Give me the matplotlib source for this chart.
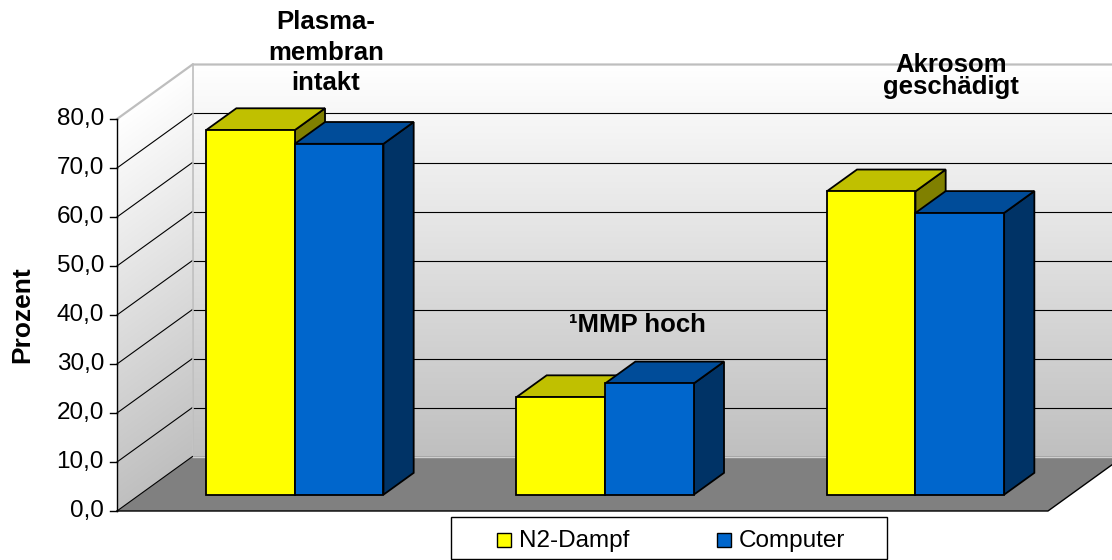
import numpy as np
import matplotlib
matplotlib.use("Agg")
import matplotlib.pyplot as plt
from matplotlib.patches import Polygon, Rectangle

# ---------------- data ----------------
categories = ["Plasma-\nmembran\nintakt", "\u00b9MMP hoch", "Akrosom\ngesch\u00e4digt"]
series_names = ["N2-Dampf", "Computer"]
n2_dampf = [74.4, 19.9, 61.9]
computer = [71.6, 22.7, 57.5]
y_ticks = [0, 10, 20, 30, 40, 50, 60, 70, 80]
y_tick_labels = ["0,0", "10,0", "20,0", "30,0", "40,0", "50,0", "60,0", "70,0", "80,0"]
y_label = "Prozent"

front_colors = ["#FFFF00", "#0066CC"]
top_colors = ["#C0C000", "#004C99"]
side_colors = ["#808000", "#003366"]

plt.rcParams['font.family'] = ['Liberation Sans', 'DejaVu Sans']

W, H = 1112, 560
fig = plt.figure(figsize=(W / 100, H / 100), dpi=100)
ax = fig.add_axes([0, 0, 1, 1])

# front-plane mapping: origin px (117, 511), px per category, px per value unit
OX, OY, SX, SY = 117.0, 511.0, 310.33, 4.9
ax.set_xlim(-OX / SX, (W - OX) / SX)
ax.set_ylim((OY - H) / SY, OY / SY)
ax.axis('off')

DXc = 75.5 / SX
DYc = 54.5 / SY
vmax = y_ticks[-1]
ncat = len(categories)


def P(x, v, d):
    return (x + d * DXc, v + d * DYc)


def px(xp):
    return (xp - OX) / SX


def py(yp):
    return (OY - yp) / SY


# ---------------- walls ----------------
xl = ax.get_xlim()
yl = ax.get_ylim()
Xg, Yg = np.meshgrid(np.linspace(xl[0], xl[1], 800), np.linspace(yl[0], yl[1], 400))
c_bot = np.array([0.75, 0.75, 0.75])
c_top = np.array([1.0, 1.0, 1.0])

# side wall
d_side = np.clip(Xg / DXc, 0, 1)
t_side = np.clip((Yg - d_side * DYc) / vmax, 0, 1)[..., None]
img_side = c_bot + (c_top - c_bot) * t_side
side_poly = Polygon([P(0, 0, 0), P(0, vmax, 0), P(0, vmax, 1), P(0, 0, 1)], closed=True,
                    facecolor='none', edgecolor='none', transform=ax.transData)
ax.add_patch(side_poly)
im1 = ax.imshow(img_side, extent=[xl[0], xl[1], yl[0], yl[1]], origin='lower',
                aspect='auto', zorder=0, interpolation='bilinear')
im1.set_clip_path(side_poly)

# back wall
t_back = np.clip((Yg - DYc) / vmax, 0, 1)[..., None]
img_back = c_bot + (c_top - c_bot) * t_back
back_poly = Polygon([P(0, 0, 1), P(ncat, 0, 1), P(ncat, vmax, 1), P(0, vmax, 1)], closed=True,
                    facecolor='none', edgecolor='none', transform=ax.transData)
ax.add_patch(back_poly)
im2 = ax.imshow(img_back, extent=[xl[0], xl[1], yl[0], yl[1]], origin='lower',
                aspect='auto', zorder=0, interpolation='bilinear')
im2.set_clip_path(back_poly)

# floor
floor = Polygon([P(0, 0, 0), P(ncat, 0, 0), P(ncat, 0, 1), P(0, 0, 1)], closed=True,
                facecolor='#808080', edgecolor='none', zorder=1)
ax.add_patch(floor)

# gridlines
for v in y_ticks[1:-1]:
    a, b = P(0, v, 0), P(0, v, 1)
    ax.plot([a[0], b[0]], [a[1], b[1]], color='black', lw=0.8, zorder=2)
    c = P(ncat, v, 1)
    ax.plot([b[0], c[0]], [b[1], c[1]], color='black', lw=0.8, zorder=2)

# wall borders (light gray)
wall_edge = '#BEBEBE'
a, b, c = P(0, vmax, 0), P(0, vmax, 1), P(ncat, vmax, 1)
ax.plot([a[0], b[0], c[0]], [a[1], b[1], c[1]], color=wall_edge, lw=1.6, zorder=2,
        solid_joinstyle='miter')
a, b = P(0, 0, 1), P(0, vmax, 1)
ax.plot([a[0], b[0]], [a[1], b[1]], color=wall_edge, lw=1.2, zorder=2)
a, b = P(0, 0, 1), P(ncat, 0, 1)
ax.plot([a[0], b[0]], [a[1], b[1]], color='#D0D0D0', lw=1.0, zorder=2)

# floor edges
a, b = P(0, 0, 0), P(0, 0, 1)
ax.plot([a[0], b[0]], [a[1], b[1]], color='black', lw=0.8, zorder=2)
a, b, c = P(0, 0, 0), P(ncat, 0, 0), P(ncat, 0, 1)
ax.plot([a[0], b[0], c[0]], [a[1], b[1], c[1]], color='black', lw=1.0, zorder=6)

# front value axis
a, b = P(0, 0, 0), P(0, vmax, 0)
ax.plot([a[0], b[0]], [a[1], b[1]], color='black', lw=1.0, zorder=6)
tick_len = 7 / SX
for v, lab in zip(y_ticks, y_tick_labels):
    ax.plot([-tick_len, 0], [v, v], color='black', lw=1.0, zorder=6)
    ax.text(px(104), v, lab, ha='right', va='center', fontsize=17.5, zorder=7)

ax.text(px(22), py(315), y_label, rotation=90, ha='center', va='center',
        fontsize=19, fontweight='bold', zorder=7)

# ---------------- bars ----------------
series = [n2_dampf, computer]
nser = len(series)
bar_w = 1.0 / (nser + 1.5)
gap = (1.0 - nser * bar_w) / 2
d0, d1 = 0.3, 0.7
z = 10
for i in range(ncat):
    for j in range(nser):
        v = series[j][i]
        x0 = i + gap + j * bar_w
        x1 = x0 + bar_w
        side = Polygon([P(x1, 0, d0), P(x1, 0, d1), P(x1, v, d1), P(x1, v, d0)], closed=True,
                       facecolor=side_colors[j], edgecolor='black', lw=1.3, zorder=z,
                       joinstyle='miter')
        top = Polygon([P(x0, v, d0), P(x1, v, d0), P(x1, v, d1), P(x0, v, d1)], closed=True,
                      facecolor=top_colors[j], edgecolor='black', lw=1.3, zorder=z,
                      joinstyle='miter')
        front = Polygon([P(x0, 0, d0), P(x1, 0, d0), P(x1, v, d0), P(x0, v, d0)], closed=True,
                        facecolor=front_colors[j], edgecolor='black', lw=1.3, zorder=z + 0.5,
                        joinstyle='miter')
        ax.add_patch(side)
        ax.add_patch(top)
        ax.add_patch(front)
        z += 1

# ---------------- category labels ----------------
label_pos = [(326, 29, 30.5), (637, 332, 30.0), (951, 72, 22.5)]
for lab, (cx, by, ls) in zip(categories, label_pos):
    for k, line in enumerate(lab.split("\n")):
        ax.text(px(cx), py(by + k * ls), line, ha='center', va='baseline',
                fontsize=18.5, fontweight='bold', zorder=30)

# ---------------- legend ----------------
box = Rectangle((px(451), py(559)), px(887) - px(451), py(517) - py(559),
                facecolor='white', edgecolor='black', lw=1.0, zorder=40)
ax.add_patch(box)
leg_x = [497, 717]
for j, name in enumerate(series_names):
    m = Rectangle((px(leg_x[j]), py(547)), px(leg_x[j] + 14) - px(leg_x[j]), py(533) - py(547),
                  facecolor=front_colors[j], edgecolor='black', lw=1.0, zorder=41)
    ax.add_patch(m)
    ax.text(px(leg_x[j] + 22), py(547), name, ha='left', va='baseline', fontsize=17.5, zorder=41)

fig.savefig("out.png", dpi=100)
